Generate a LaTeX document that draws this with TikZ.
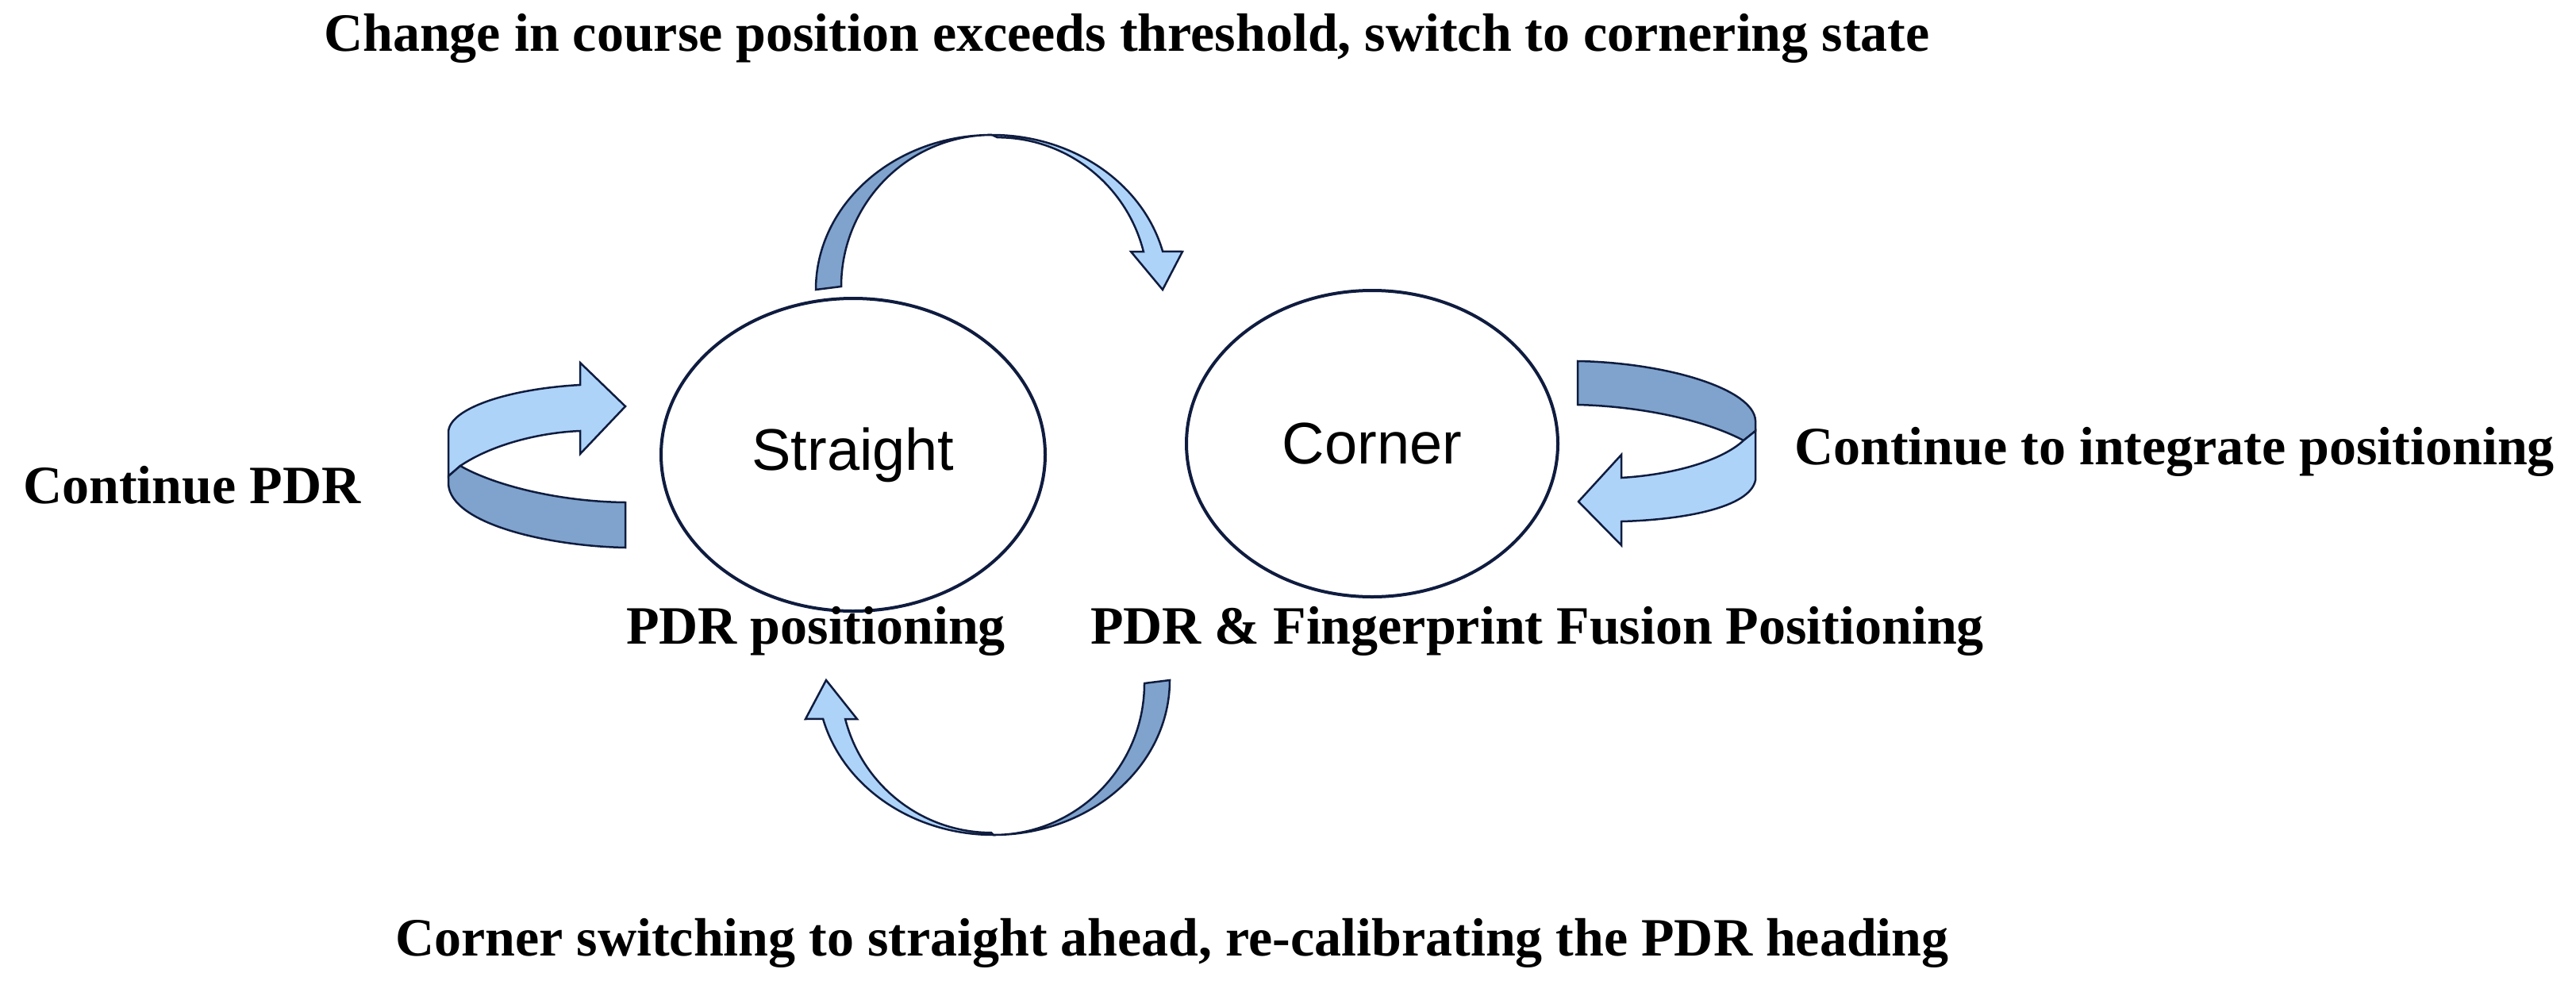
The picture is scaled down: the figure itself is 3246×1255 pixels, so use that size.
\documentclass[tikz,border=0pt]{standalone}
\usetikzlibrary{shapes.geometric}
\usepackage{fontspec}
\setmainfont{Liberation Serif}
\newfontfamily\sansf{Liberation Sans}
\definecolor{darkb}{HTML}{7FA3CC}
\definecolor{lightb}{HTML}{AED3F9}
\definecolor{navy}{HTML}{0F1C3F}
\begin{document}
\begin{tikzpicture}[x=1pt,y=-1pt,
  lbl/.style={font=\fontsize{68}{72}\selectfont\bfseries, inner sep=0pt},
  state/.style={ellipse, draw=navy, line width=4pt, font=\sansf\fontsize{74}{80}\selectfont, inner sep=0pt},
  rib/.style={draw=navy, line width=2.5pt, line join=miter}]
\useasboundingbox (0,0) rectangle (3246,1255);
\fill[white] (0,0) rectangle (3246,1255);
\node[state, minimum width=484pt, minimum height=394pt] (straight) at (1075,573) {Straight};
\node[state, minimum width=468pt, minimum height=386pt] (corner) at (1729,559) {Corner};
\node[lbl] (top) at (1420,48) {Change in course position exceeds threshold, switch to cornering state};
\node[lbl] (bot) at (1477,1188) {Corner switching to straight ahead, re-calibrating the PDR heading};
\node[lbl, anchor=west] (cpdr) at (29,611) {Continue PDR};
\node[lbl, anchor=west] (cint) at (2261,569) {Continue to integrate positioning};
\node[lbl] (pdrpos) at (1028,795) {PDR positioning};
\node[lbl] (fus) at (1937,795) {PDR \& Fingerprint Fusion Positioning};
% top arrow
\filldraw[rib, fill=darkb] (1028,365) arc[start angle=180, end angle=270, x radius=222, y radius=195]
  arc[start angle=270, end angle=180, x radius=190, y radius=191] -- cycle;
\filldraw[rib, fill=lightb] (1250,170) arc[start angle=270, end angle=345.7, x radius=222, y radius=195]
  -- (1490,317) -- (1465,365) -- (1425,317) -- ++(15.9,0)
  arc[start angle=345.7, end angle=270, x radius=190, y radius=191] -- cycle;
% bottom arrow
\filldraw[rib, fill=darkb] (1474,857) arc[start angle=0, end angle=90, x radius=222, y radius=195]
  arc[start angle=90, end angle=0, x radius=190, y radius=191] -- cycle;
\filldraw[rib, fill=lightb] (1252,1052) arc[start angle=90, end angle=165.5, x radius=222, y radius=195]
  -- (1015,906) -- (1041,857) -- (1080,906) -- ++(-14.9,0)
  arc[start angle=165.5, end angle=90, x radius=190, y radius=191] -- cycle;
% left loop
\filldraw[rib, fill=lightb] (731,485) .. controls (640,490) and (565,515) .. (565,545) -- (565,600) -- (580,587)
  .. controls (620,560) and (680,545) .. (731,543) -- (731,572) -- (788,512) -- (731,457) -- cycle;
\filldraw[rib, fill=darkb] (565,600) -- (580,587) .. controls (620,610) and (700,632) .. (788,633) -- (788,690)
  .. controls (690,688) and (568,660) .. (565,610) -- cycle;
% right loop
\filldraw[rib, fill=darkb] (1988,455) .. controls (2100,457) and (2210,490) .. (2212,530) -- (2212,543) -- (2197,555)
  .. controls (2150,530) and (2070,512) .. (1988,510) -- cycle;
\filldraw[rib, fill=lightb] (2212,543) -- (2212,605) .. controls (2205,640) and (2120,655) .. (2043,657) -- (2043,687)
  -- (1989,632) -- (2043,573) -- (2043,602) .. controls (2110,598) and (2170,580) .. (2197,555) -- cycle;
\end{tikzpicture}
\end{document}
